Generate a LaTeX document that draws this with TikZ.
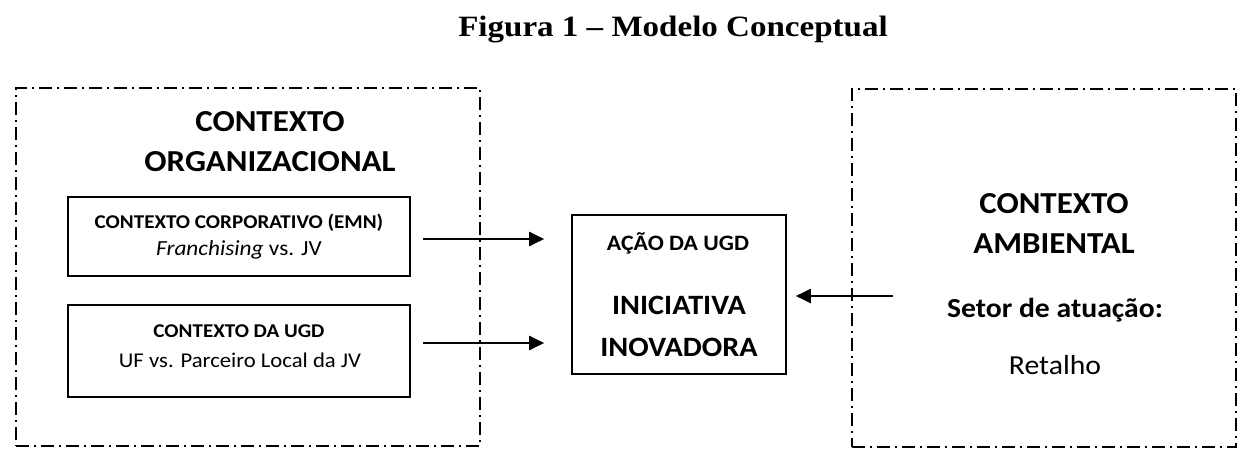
\documentclass[tikz,border=0pt]{standalone}
\usepackage{fontspec}
\setmainfont[FakeStretch=1.08]{Carlito}
\newfontfamily\titlefont[FakeStretch=1.12]{Liberation Serif}
\usetikzlibrary{arrows.meta, positioning}

\begin{document}
\begin{tikzpicture}[x=1pt, y=-1pt, >={Triangle[length=15pt,width=14pt]},
  every node/.style={inner sep=0pt, align=center},
  frame/.style={draw, line width=2pt, dash pattern=on 13pt off 5pt on 2pt off 5pt},
  ctxbox/.style={draw, line width=1.6pt},
  flow/.style={->, line width=2pt},
  hbig/.style={font=\fontsize{30.5}{40}\selectfont\bfseries},
  hsmall/.style={font=\fontsize{19.5}{22}\selectfont\bfseries},
  plain/.style={font=\fontsize{21.5}{26}\selectfont}]
  \useasboundingbox (0,0) rectangle (1248,456);
  % --- title ---
  \node (title) at (673,30) {\titlefont\fontsize{29.5}{32}\selectfont\bfseries Figura 1 – Modelo Conceptual};
  % --- contexto organizacional ---
  \node[frame, minimum width=464pt, minimum height=358pt] (org) at (248,267) {};
  \node[hbig] (orgtit) at (270,142) {CONTEXTO\\ORGANIZACIONAL};
  \node[ctxbox, minimum width=342pt, minimum height=79pt] (corp) at (239,236.5) {};
  \node[hsmall] (corpa) at (239,223) {CONTEXTO CORPORATIVO (EMN)};
  \node[plain] (corpb) at (239,250) {\textit{Franchising} vs. JV};
  \node[ctxbox, minimum width=342pt, minimum height=92pt] (ugd) at (239,351) {};
  \node[hsmall] (ugda) at (239,331) {CONTEXTO DA UGD};
  \node[plain, font=\fontsize{21}{26}\selectfont] (ugdb) at (240,360) {UF vs. Parceiro Local da JV};
  % --- acao da UGD ---
  \node[ctxbox, minimum width=214pt, minimum height=159pt] (acao) at (679,294.5) {};
  \node[font=\fontsize{22}{24}\selectfont\bfseries] (acaoa) at (678,243) {AÇÃO DA UGD};
  \node[font=\fontsize{28}{42}\selectfont\bfseries] (acaob) at (679,326) {INICIATIVA\\INOVADORA};
  % --- contexto ambiental ---
  \node[frame, minimum width=384pt, minimum height=358pt] (amb) at (1044,268) {};
  \node[hbig] (ambtit) at (1054,223) {CONTEXTO\\AMBIENTAL};
  \node[font=\fontsize{27.5}{30}\selectfont\bfseries] (setor) at (1055,310) {Setor de atuação:};
  \node[font=\fontsize{27.5}{30}\selectfont] (ret) at (1055,365) {Retalho};
  % --- arrows ---
  \coordinate (c1) at (423,239);
  \coordinate (c2) at (423,343);
  \coordinate (c3) at (893,296);
  \draw[flow, shorten >=27pt] (c1) -- (c1 -| acao.west);
  \draw[flow, shorten >=27pt] (c2) -- (c2 -| acao.west);
  \draw[flow, shorten >=9pt] (c3) -- (c3 -| acao.east);
\end{tikzpicture}
\end{document}
